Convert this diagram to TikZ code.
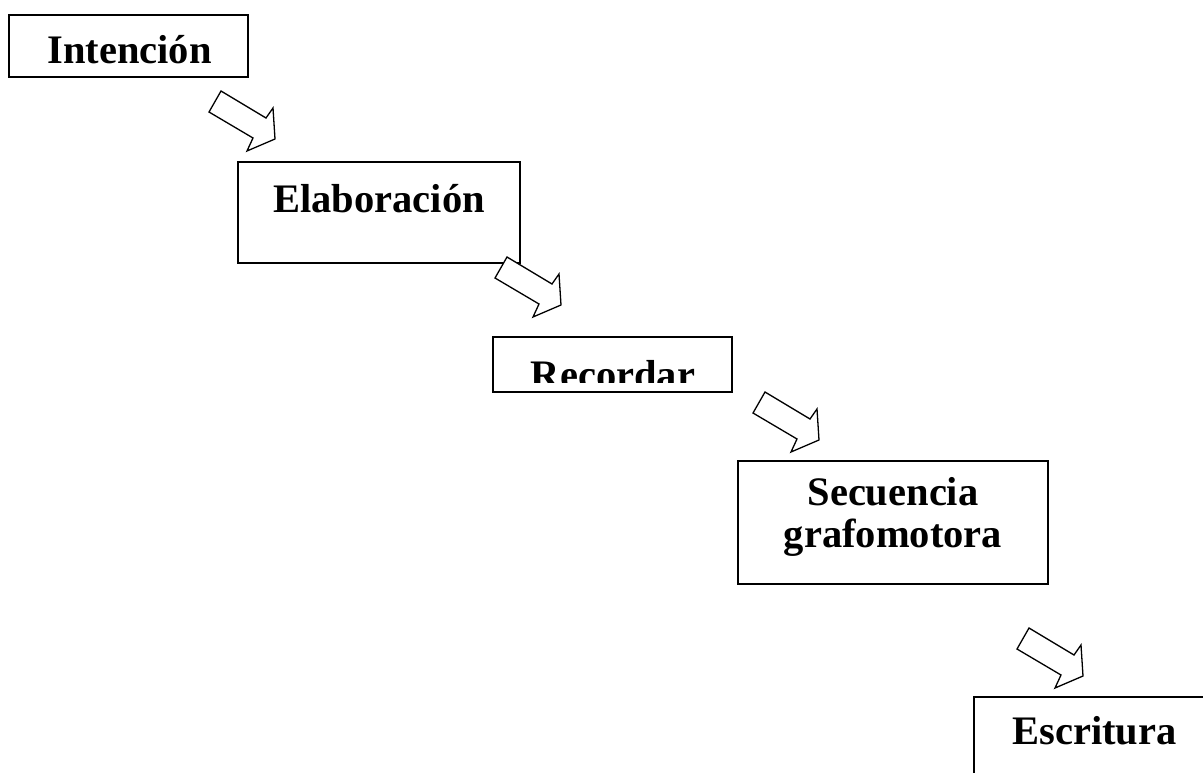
\documentclass[tikz,border=0pt]{standalone}
\usepackage{fontspec}
\setmainfont{Liberation Serif}
\begin{document}
\begin{tikzpicture}[x=1pt,y=-1pt,
  box/.style={draw=black, line width=1.8pt, fill=none, inner sep=0pt, rectangle},
  lbl/.style={font=\fontsize{40.5}{42}\selectfont\bfseries, inner sep=0pt, anchor=base, align=center},
  arrowline/.style={draw=black, line width=1.3pt, line join=miter, fill=white},
  blockarrow/.pic={\path[arrowline] (0,0) -- (45,27) -- (52,17) -- (54,48) -- (26,60) -- (32,47) -- (-12,21) -- cycle;}
]
\useasboundingbox (0,0) rectangle (1203,773);
\clip (0,0) rectangle (1203,773);
\fill[white] (0,0) rectangle (1203,773);

% boxes
\node[box, minimum width=239pt, minimum height=62pt] (b1) at (128.5,46) {};
\node[box, minimum width=282pt, minimum height=101pt] (b2) at (379,212.5) {};
\node[box, minimum width=239pt, minimum height=55pt] (b3) at (612.5,364.5) {};
\node[box, minimum width=310pt, minimum height=123pt] (b4) at (893,522.5) {};
\node[box, minimum width=242pt, minimum height=120pt] (b5) at (1095,757) {};

% texts
\node[lbl] (t1) at (129.5,64) {Intención};
\node[lbl] (t2) at (379,212.5) {Elaboración};
\begin{scope}
  \clip (493,337) rectangle (732,382);
  \node[lbl] (t3) at (613,388) {Recordar};
\end{scope}
\node[lbl] (t4) at (893,547) {Secuencia\\grafomotora};
\node[lbl] (t5) at (1094.5,744) {Escritura};

% block arrows
\pic at (221,91) {blockarrow};
\pic at (507,257) {blockarrow};
\pic at (765,392) {blockarrow};
\pic at (1029,628) {blockarrow};
\end{tikzpicture}
\end{document}
